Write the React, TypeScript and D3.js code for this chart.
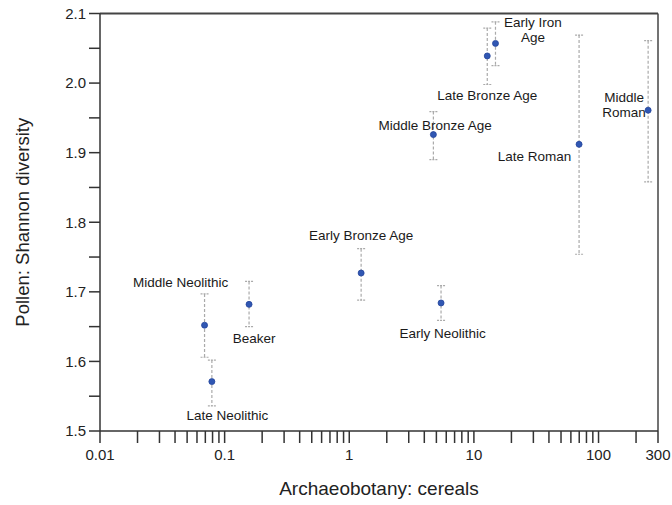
import React from "react";
import * as d3 from "d3";

const categories = [
  "Early Neolithic",
  "Middle Neolithic",
  "Late Neolithic",
  "Beaker",
  "Early Bronze Age",
  "Middle Bronze Age",
  "Late Bronze Age",
  "Early Iron Age",
  "Middle Roman",
  "Late Roman",
];
const cereals = [5.45, 0.069, 0.079, 0.157, 1.245, 4.73, 12.8, 14.9, 250, 69.8];
const shannon = [1.684, 1.652, 1.571, 1.682, 1.727, 1.926, 2.039, 2.057, 1.961, 1.912];
const errLow = [1.659, 1.606, 1.536, 1.65, 1.688, 1.89, 1.998, 2.025, 1.858, 1.754];
const errHigh = [1.709, 1.697, 1.602, 1.715, 1.762, 1.959, 2.079, 2.088, 2.061, 2.069];

const xTickLabels = [0.01, 0.1, 1, 10, 100, 300];
const yTickLabels = [1.5, 1.6, 1.7, 1.8, 1.9, 2.0, 2.1];
const xTitle = "Archaeobotany: cereals";
const yTitle = "Pollen: Shannon diversity";

// label layout (pixel offsets from the point, line by line)
const labelLayout: Record<string, { dx: number; dy: number; lines: string[] }> = {
  "Early Neolithic": { dx: 1.5, dy: 30.3, lines: ["Early Neolithic"] },
  "Middle Neolithic": { dx: -24, dy: -42.6, lines: ["Middle Neolithic"] },
  "Late Neolithic": { dx: 15.5, dy: 33.3, lines: ["Late Neolithic"] },
  Beaker: { dx: 5, dy: 33.4, lines: ["Beaker"] },
  "Early Bronze Age": { dx: 0, dy: -37.6, lines: ["Early Bronze Age"] },
  "Middle Bronze Age": { dx: 1.7, dy: -9.4, lines: ["Middle Bronze Age"] },
  "Late Bronze Age": { dx: 0, dy: 39, lines: ["Late Bronze Age"] },
  "Early Iron Age": { dx: 37.5, dy: -14, lines: ["Early Iron", "Age"] },
  "Middle Roman": { dx: -24, dy: -6, lines: ["Middle", "Roman"] },
  "Late Roman": { dx: -44.5, dy: 11.4, lines: ["Late Roman"] },
};

export default function App() {
  const W = 672;
  const H = 505;
  const left = 100;
  const right = 658;
  const top = 13.5;
  const bottom = 431;

  const x = d3.scaleLog().domain([0.01, 300]).range([left, right]);
  const y = d3.scaleLinear().domain([1.5, 2.1]).range([bottom, top]);

  const xTicks = x.ticks().filter((t) => t <= 300);
  const yTicks = d3.range(0, 13).map((i) => 1.5 + i * 0.05);

  const axisColor = "#333";
  const font = "'Liberation Sans', Arial, sans-serif";

  return (
    <svg
      width={W}
      height={H}
      style={{ position: "absolute", left: 0, top: 0, background: "#fff" }}
      fontFamily={font}
    >
      <rect x={0} y={0} width={W} height={H} fill="#fff" />
      {/* frame: top and right */}
      <line x1={left} x2={right} y1={top} y2={top} stroke="#444" strokeWidth={2} />
      <line x1={right} x2={right} y1={top} y2={bottom} stroke="#444" strokeWidth={1.5} />
      {/* x axis */}
      <line x1={left} x2={right} y1={bottom} y2={bottom} stroke={axisColor} strokeWidth={1.5} />
      {xTicks.map((t, i) => (
        <line
          key={"xt" + i}
          x1={x(t)}
          x2={x(t)}
          y1={bottom}
          y2={bottom + 12}
          stroke={axisColor}
          strokeWidth={1.5}
        />
      ))}
      {xTickLabels.map((t, i) => (
        <text
          key={"xl" + i}
          x={x(t)}
          y={460}
          textAnchor="middle"
          fontSize={15}
          fill="#222"
        >
          {String(t)}
        </text>
      ))}
      {/* y axis */}
      <line x1={left} x2={left} y1={top} y2={bottom} stroke={axisColor} strokeWidth={1.5} />
      {yTicks.map((t, i) => (
        <line
          key={"yt" + i}
          x1={left - 11}
          x2={left}
          y1={y(t)}
          y2={y(t)}
          stroke={axisColor}
          strokeWidth={1.5}
        />
      ))}
      {yTickLabels.map((t, i) => (
        <text
          key={"yl" + i}
          x={86}
          y={y(t) + 5.3}
          textAnchor="end"
          fontSize={15}
          fill="#222"
        >
          {t.toFixed(1)}
        </text>
      ))}
      {/* titles */}
      <text x={379} y={495} textAnchor="middle" fontSize={19} fill="#222">
        {xTitle}
      </text>
      <text
        transform={`translate(29, ${(top + bottom) / 2}) rotate(-90)`}
        textAnchor="middle"
        fontSize={18.5}
        fill="#222"
      >
        {yTitle}
      </text>
      {/* error bars */}
      {categories.map((c, i) => {
        const px = x(cereals[i]);
        return (
          <g key={"eb" + i} stroke="#aaa" strokeWidth={1.2}>
            <line x1={px} x2={px} y1={y(errHigh[i])} y2={y(errLow[i])} strokeDasharray="3,2" />
            <line x1={px - 4} x2={px + 4} y1={y(errHigh[i])} y2={y(errHigh[i])} strokeDasharray="2,1" />
            <line x1={px - 4} x2={px + 4} y1={y(errLow[i])} y2={y(errLow[i])} strokeDasharray="2,1" />
          </g>
        );
      })}
      {/* points */}
      {categories.map((c, i) => (
        <circle
          key={"pt" + i}
          cx={x(cereals[i])}
          cy={y(shannon[i])}
          r={3}
          fill="#3057b3"
          stroke="#23449a"
          strokeWidth={0.8}
        />
      ))}
      {/* labels */}
      {categories.map((c, i) => {
        const lay = labelLayout[c];
        const px = x(cereals[i]) + lay.dx;
        const n = lay.lines.length;
        const lh = 15;
        const cy = y(shannon[i]) + lay.dy;
        return (
          <text key={"lb" + i} textAnchor="middle" fontSize={13.5} fill="#1a1a1a">
            {lay.lines.map((ln, j) => (
              <tspan key={j} x={px} y={cy - ((n - 1) * lh) / 2 + j * lh + 4.8}>
                {ln}
              </tspan>
            ))}
          </text>
        );
      })}
    </svg>
  );
}
